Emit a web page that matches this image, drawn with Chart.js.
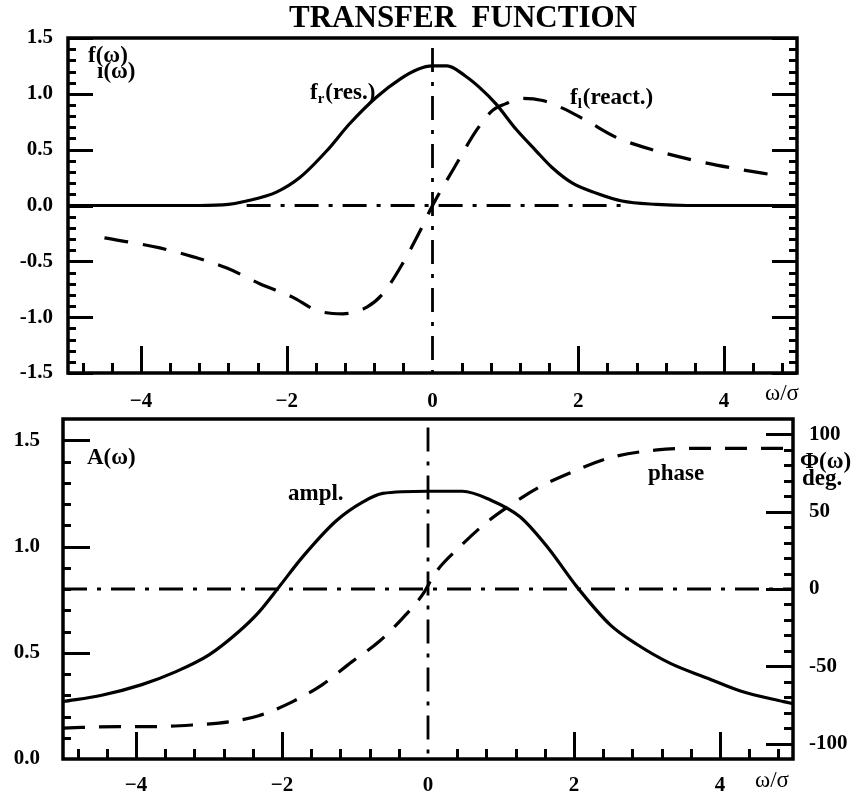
<!DOCTYPE html>
<html>
<head>
<meta charset="utf-8">
<script src="https://cdn.jsdelivr.net/npm/chart.js@4.4.1/dist/chart.umd.min.js"></script>
<style>
  html, body { margin: 0; padding: 0; background: #fff; }
  #wrap { position: relative; width: 864px; height: 793px; }
  .panel { position: absolute; left: 0; width: 864px; }
  #top { top: 0; height: 410px; }
  #bottom { top: 410px; height: 383px; }
</style>
</head>
<body>
<div id="wrap">
  <div class="panel" id="top"><canvas id="transferChart"></canvas></div>
  <div class="panel" id="bottom"><canvas id="amplPhaseChart"></canvas></div>
</div>
<script>
// tick labels
const omegaTicks = [-4, -2, 0, 2, 4];
const fTicks = [-1.5, -1.0, -0.5, 0.0, 0.5, 1.0, 1.5];
const ampTicks = [0.0, 0.5, 1.0, 1.5];
const phaseTicks = [-100, -50, 0, 50, 100];

// f_r (resistive part), solid
const frX = [-5, -4, -3.2, -2.8, -2.55, -2.14, -1.82, -1.45, -1.14, -0.77, -0.45, -0.2, 0, 0.2, 0.45, 0.64, 0.87, 1.15, 1.42, 1.64, 1.92, 2.25, 2.6, 3.07, 3.5, 4, 5];
const frY = [0, 0, 0, 0.01, 0.04, 0.12, 0.25, 0.49, 0.73, 0.97, 1.13, 1.22, 1.25, 1.25, 1.16, 1.06, 0.91, 0.68, 0.49, 0.34, 0.2, 0.11, 0.04, 0.01, 0, 0, 0];

// f_i (reactive part), dashed
const fiX = [-4.5, -3.74, -3.28, -2.82, -2.37, -1.92, -1.59, -1.23, -0.9, -0.68, -0.41, -0.18, 0, 0.3, 0.6, 0.82, 1.0, 1.24, 1.51, 1.79, 2.11, 2.52, 3.07, 3.62, 4.16, 4.71];
const fiY = [-0.29, -0.38, -0.46, -0.56, -0.7, -0.82, -0.94, -0.97, -0.91, -0.79, -0.52, -0.24, 0, 0.34, 0.67, 0.85, 0.91, 0.96, 0.94, 0.87, 0.76, 0.61, 0.49, 0.4, 0.33, 0.27];

// amplitude A(w), solid
const ampX = [-5, -4.47, -3.92, -3.46, -3.0, -2.59, -2.32, -2.04, -1.72, -1.26, -0.89, -0.62, 0, 0.47, 0.85, 1.26, 1.63, 2.04, 2.5, 2.86, 3.32, 3.83, 4.28, 4.87, 5];
const ampY = [0.27, 0.3, 0.35, 0.41, 0.49, 0.6, 0.69, 0.81, 0.95, 1.12, 1.21, 1.25, 1.26, 1.26, 1.22, 1.14, 1.0, 0.81, 0.63, 0.54, 0.45, 0.38, 0.32, 0.27, 0.26];

// phase in degrees, dashed
const phX = [-5, -4.24, -3.73, -3.23, -2.73, -2.32, -1.86, -1.45, -1.04, -0.67, -0.35, -0.08, 0.11, 0.43, 0.8, 1.12, 1.53, 1.99, 2.5, 3.14, 3.73, 4.38, 4.9];
const phY = [-90, -89, -89, -88, -86, -82, -73, -62, -47, -34, -19, -4, 11, 27, 43, 54, 66, 76, 85, 90, 91, 91, 91];

// dash-dot reference lines
const topZeroX = [-2.55, 2.6];
const topAxisY = [1.41, -1.5];
const botZeroX = [-5, 5];
const botAxisY = [1.56, 0];

const SERIF = "'Liberation Serif', 'DejaVu Serif', serif";
const DASH = [24, 15];
const DASH_DOT = [24, 10, 4, 10];

function pts(xs, ys) { return xs.map((x, i) => ({ x: x, y: ys[i] })); }

function steps(from, to, step, skip) {
  const out = [];
  for (let v = from; v <= to + 1e-9; v += step) {
    const r = Math.round(v * 100) / 100;
    if (!skip(r)) out.push(r);
  }
  return out;
}

const isMult = (v, m) => Math.abs(v / m - Math.round(v / m)) < 1e-6;
const minorOmega = steps(-4.8, 4.8, 0.4, v => isMult(v, 2));
const majorOmega = [-4, -2, 2, 4];

// frame box and inward tick marks
const frameTicks = {
  id: 'frameTicks',
  afterDatasetsDraw(chart, args, opts) {
    const ctx = chart.ctx, a = chart.chartArea;
    ctx.save();
    ctx.strokeStyle = '#000';
    ctx.lineWidth = 3;
    (opts.marks || []).forEach(m => {
      const s = chart.scales[m.scale];
      m.values.forEach(v => {
        const p = Math.round(s.getPixelForValue(v)) + 0.5;
        ctx.beginPath();
        if (m.side === 'left') { ctx.moveTo(a.left, p); ctx.lineTo(a.left + m.len, p); }
        if (m.side === 'right') { ctx.moveTo(a.right, p); ctx.lineTo(a.right - m.len, p); }
        if (m.side === 'bottom') { ctx.moveTo(p, a.bottom); ctx.lineTo(p, a.bottom - m.len); }
        ctx.stroke();
      });
    });
    ctx.lineWidth = 3.5;
    ctx.strokeRect(a.left, a.top, a.right - a.left, a.bottom - a.top);
    ctx.restore();
  }
};

// free text: title, curve names and axis names
const textLabels = {
  id: 'textLabels',
  afterDraw(chart, args, opts) {
    const ctx = chart.ctx;
    ctx.save();
    ctx.fillStyle = '#000';
    ctx.textBaseline = 'alphabetic';
    (opts.items || []).forEach(t => {
      const main = (t.weight || 'bold') + ' ' + (t.size || 23) + 'px ' + SERIF;
      ctx.font = main;
      ctx.textAlign = t.align || 'left';
      let x = t.x;
      ctx.fillText(t.text, x, t.y);
      if (t.sub) {
        x += ctx.measureText(t.text).width;
        ctx.font = 'bold 15px ' + SERIF;
        ctx.fillText(t.sub, x, t.y + 4);
        x += ctx.measureText(t.sub).width + 1;
        ctx.font = main;
        ctx.fillText(t.rest, x, t.y);
      }
    });
    ctx.restore();
  }
};

Chart.register(frameTicks, textLabels);

const tickFont = { family: SERIF, size: 21, weight: 'bold' };
const fmtOmega = v => (v < 0 ? '\u2212' + Math.abs(v) : String(v));
const noPad = s => { s.paddingTop = 0; s.paddingBottom = 0; };

function omegaScale(pad, height) {
  return {
    type: 'linear', position: 'bottom', min: -5, max: 5,
    grid: { display: false, drawTicks: false }, border: { display: false },
    afterBuildTicks: s => { s.ticks = omegaTicks.map(v => ({ value: v })); },
    afterFit: s => { s.height = height; },
    ticks: { font: tickFont, color: '#000', padding: pad, maxRotation: 0, callback: fmtOmega }
  };
}

function curve(data, dash, yAxisID) {
  return {
    data: data, yAxisID: yAxisID || 'y',
    borderColor: '#000', borderWidth: 3.2, borderDash: dash || [],
    pointRadius: 0, fill: false, cubicInterpolationMode: 'monotone'
  };
}

function refLine(data, yAxisID) {
  return {
    data: data, yAxisID: yAxisID || 'y',
    borderColor: '#000', borderWidth: 2.8, borderDash: DASH_DOT,
    pointRadius: 0, fill: false, tension: 0
  };
}

// upper panel: real and imaginary part of the transfer function
new Chart(document.getElementById('transferChart'), {
  type: 'line',
  data: {
    datasets: [
      refLine(pts(topZeroX, [0, 0])),
      refLine(pts([0, 0], topAxisY)),
      curve(pts(frX, frY)),
      curve(pts(fiX, fiY), DASH)
    ]
  },
  options: {
    responsive: true, maintainAspectRatio: false, animation: false,
    layout: { autoPadding: false, padding: { left: 8, right: 67, top: 38, bottom: 0 } },
    plugins: {
      legend: { display: false }, tooltip: { enabled: false },
      frameTicks: {
        marks: [
          { scale: 'y', side: 'left', len: 25, values: fTicks },
          { scale: 'y', side: 'left', len: 8, values: steps(-1.4, 1.4, 0.1, v => isMult(v, 0.5)) },
          { scale: 'y', side: 'right', len: 25, values: fTicks },
          { scale: 'y', side: 'right', len: 8, values: steps(-1.4, 1.4, 0.1, v => isMult(v, 0.5)) },
          { scale: 'x', side: 'bottom', len: 27, values: majorOmega },
          { scale: 'x', side: 'bottom', len: 10, values: minorOmega }
        ]
      },
      textLabels: {
        items: [
          { text: 'TRANSFER  FUNCTION', x: 463, y: 27, size: 31, align: 'center' },
          { text: 'f(\u03c9)', x: 88, y: 62 },
          { text: '\u0131(\u03c9)', x: 97, y: 78 },
          { text: 'f', sub: 'r', rest: '(res.)', x: 310, y: 99 },
          { text: 'f', sub: 'l', rest: '(react.)', x: 570, y: 104 },
          { text: '\u03c9/\u03c3', x: 765, y: 400, weight: 'normal' }
        ]
      }
    },
    scales: {
      x: omegaScale(16, 37),
      y: {
        type: 'linear', position: 'left', min: -1.5, max: 1.5,
        grid: { display: false, drawTicks: false }, border: { display: false },
        afterBuildTicks: s => { s.ticks = fTicks.map(v => ({ value: v })); },
        afterFit: s => { s.width = 60; noPad(s); },
        ticks: { font: tickFont, color: '#000', padding: 15, callback: v => v.toFixed(1) }
      }
    }
  }
});

// lower panel: amplitude (left axis) and phase (right axis)
new Chart(document.getElementById('amplPhaseChart'), {
  type: 'line',
  data: {
    datasets: [
      refLine(pts(botZeroX, [0, 0]), 'y1'),
      refLine(pts([0, 0], botAxisY)),
      curve(pts(ampX, ampY)),
      curve(pts(phX, phY), [22, 14], 'y1')
    ]
  },
  options: {
    responsive: true, maintainAspectRatio: false, animation: false,
    layout: { autoPadding: false, padding: { left: 8, right: 8, top: 9, bottom: 0 } },
    plugins: {
      legend: { display: false }, tooltip: { enabled: false },
      frameTicks: {
        marks: [
          { scale: 'y', side: 'left', len: 27, values: [0.5, 1.0, 1.5] },
          { scale: 'y', side: 'left', len: 8, values: steps(0.1, 1.5, 0.1, v => isMult(v, 0.5)) },
          { scale: 'y1', side: 'right', len: 27, values: phaseTicks },
          { scale: 'y1', side: 'right', len: 9, values: steps(-100, 100, 10, v => isMult(v, 50)) },
          { scale: 'x', side: 'bottom', len: 27, values: majorOmega },
          { scale: 'x', side: 'bottom', len: 10, values: minorOmega }
        ]
      },
      textLabels: {
        items: [
          { text: 'A(\u03c9)', x: 87, y: 54 },
          { text: 'ampl.', x: 288, y: 90 },
          { text: 'phase', x: 648, y: 70 },
          { text: '\u03a6(\u03c9)', x: 800, y: 58 },
          { text: 'deg.', x: 802, y: 75 },
          { text: '\u03c9/\u03c3', x: 755, y: 377, weight: 'normal' }
        ]
      }
    },
    scales: {
      x: omegaScale(14, 34),
      y: {
        type: 'linear', position: 'left', min: 0, max: 1.6,
        grid: { display: false, drawTicks: false }, border: { display: false },
        afterBuildTicks: s => { s.ticks = ampTicks.map(v => ({ value: v })); },
        afterFit: s => { s.width = 55; noPad(s); },
        ticks: { font: tickFont, color: '#000', padding: 23, callback: v => v.toFixed(1) }
      },
      y1: {
        type: 'linear', position: 'right', min: -110, max: 110,
        grid: { display: false, drawTicks: false }, border: { display: false },
        afterBuildTicks: s => { s.ticks = phaseTicks.map(v => ({ value: v })); },
        afterFit: s => { s.width = 63; noPad(s); },
        ticks: { font: tickFont, color: '#000', padding: 16, callback: v => (v < 0 ? '-' + Math.abs(v) : String(v)) }
      }
    }
  }
});
</script>
</body>
</html>
